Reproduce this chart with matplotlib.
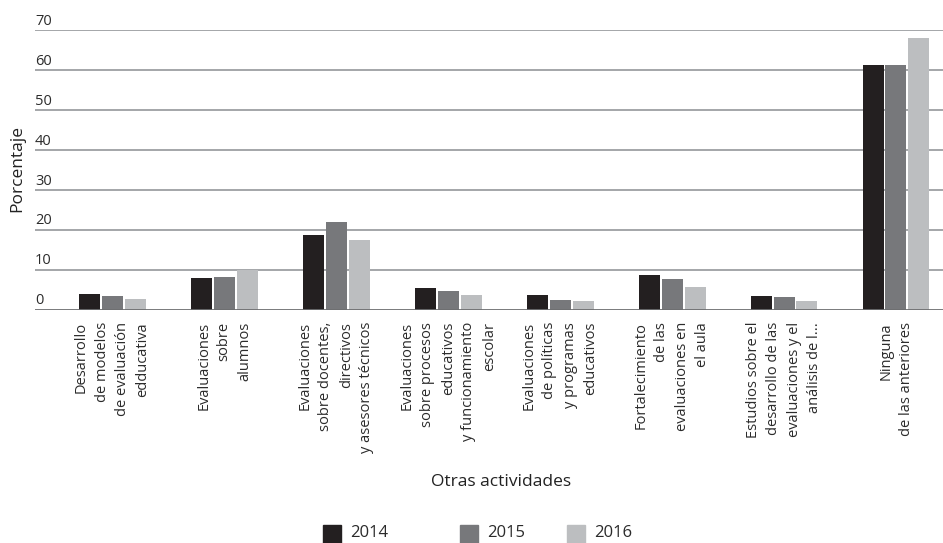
import numpy as np
import matplotlib.pyplot as plt
from matplotlib.patches import Rectangle

plt.rcParams['font.family'] = ['Open Sans', 'DejaVu Sans']

# data
categorias = [
    "Desarrollo\nde modelos\nde evaluación\nedducativa",
    "Evaluaciones\nsobre\nalumnos",
    "Evaluaciones\nsobre docentes,\ndirectivos\ny asesores técnicos",
    "Evaluaciones\nsobre procesos\neducativos\ny funcionamiento\nescolar",
    "Evaluaciones\nde políticas\ny programas\neducativos",
    "Fortalecimiento\nde las\nevaluaciones en\nel aula",
    "Estudios sobre el\ndesarrollo de las\nevaluaciones y el\nanálisis de l...",
    "Ninguna\nde las anteriores",
]
anios = ["2014", "2015", "2016"]
v2014 = [3.9, 7.9, 18.6, 5.4, 3.6, 8.7, 3.4, 61.2]
v2015 = [3.4, 8.1, 21.9, 4.6, 2.4, 7.7, 3.1, 61.2]
v2016 = [2.6, 10.0, 17.3, 3.6, 2.1, 5.6, 2.1, 68.1]
colores = ["#231f20", "#77787b", "#bcbec0"]
yticks = [0, 10, 20, 30, 40, 50, 60, 70]

txt = "#2b2b2b"
fig = plt.figure(figsize=(9.43, 5.43), dpi=100)
ax = fig.add_axes([35/943, 1 - 309.5/543, 908/943, 279.5/543])

x = np.arange(len(categorias))
w = 0.1875
step = 0.205
for i, serie in enumerate([v2014, v2015, v2016]):
    ax.bar(x + (i - 1)*step, serie, width=w, color=colores[i], zorder=3)

# gridlines, labels sit above the lines
for t in yticks:
    if t == 0:
        ax.axhline(t, color="#6d6e70", lw=2, zorder=4)
    else:
        ax.axhline(t, color="#9d9fa2", lw=1.3, zorder=1)
    ax.text(0, t + 1.3, str(t), transform=ax.get_yaxis_transform(),
            ha="left", va="baseline", fontsize=10.5, color=txt)

ax.set_xlim(-0.69, 7.42)
ax.set_ylim(0, 70)
ax.set_yticks([])
ax.set_xticks(x)
ax.set_xticklabels(categorias, rotation=90, ha="center", va="top",
                   multialignment="right", linespacing=1.5,
                   fontsize=10.5, color=txt)
ax.tick_params(axis="x", length=0, pad=9)
for s in ax.spines.values():
    s.set_visible(False)

fig.text(17/943, 1 - 169/543, "Porcentaje", rotation=90, ha="center",
         va="center", fontsize=12.5, color="#222222")
fig.text(501/943, 1 - 482/543, "Otras actividades", ha="center",
         va="center", fontsize=12.5, color="#222222")

# legend drawn by hand to keep the uneven spacing
leg_x = [323, 460, 567]
for lx, lab, c in zip(leg_x, anios, colores):
    fig.add_artist(Rectangle((lx/943, 1 - 543/543), 18/943, 18/543,
                             transform=fig.transFigure, color=c))
    fig.text((lx + 27)/943, 1 - 541/543, lab, ha="left", va="bottom",
             fontsize=12, color=txt)

plt.savefig("out.png", dpi=100)
